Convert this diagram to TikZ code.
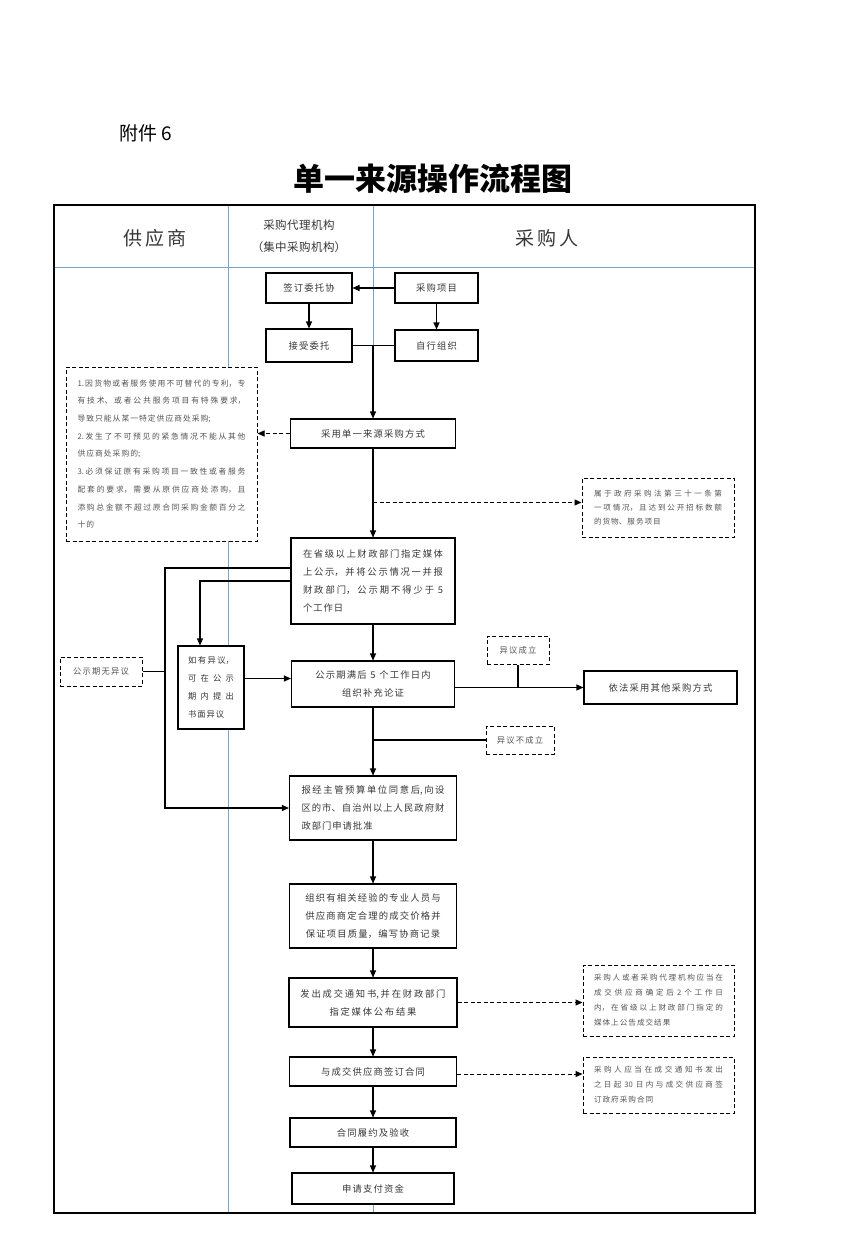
\documentclass[tikz,border=0pt]{standalone}
\usepackage{fontspec}
\setmainfont{Noto Sans CJK SC}
\usetikzlibrary{arrows.meta}
\XeTeXlinebreaklocale "zh"
\XeTeXlinebreakskip=1.2pt
\definecolor{laneblue}{RGB}{120,165,205}
\definecolor{flowgray}{RGB}{55,55,55}
\definecolor{notegray}{RGB}{85,85,85}
\newcommand\justskip{\XeTeXlinebreakskip=1pt plus 3pt minus 0.5pt\relax}
\newcommand\flowfont{\fontsize{9.3}{18}\selectfont}
\newcommand\leftfont{\fontsize{7.8}{17.7}\selectfont\justskip}
\newcommand\rightfont{\fontsize{7.6}{15}\selectfont\justskip}
\newcommand\labelfont{\fontsize{8.3}{10}\selectfont}
\newcommand\gap{\hspace{0.4em}}

\begin{document}
\begin{tikzpicture}[x=1pt,y=-1pt,
	flow_box/.style={draw,fill=white,line width=1.1pt,minimum width=166pt,minimum height=29pt,inner sep=0pt,text width=150pt,align=center,font=\flowfont,text=flowgray},
	note_box/.style={draw,fill=white,line width=1pt,dash pattern=on 4pt off 2.5pt,inner sep=0pt,align=justify,font=\rightfont,text=notegray},
	flow_line/.style={line width=1.1pt},
	flow_arrow/.style={line width=1.1pt,-{Triangle[length=7pt,width=6pt]}},
	dash_arrow/.style={line width=1pt,dash pattern=on 4pt off 2.5pt,-{Triangle[length=7pt,width=6pt]}}]

	\path[fill=white,use as bounding box] (0,0) rectangle (850,1250);

	% title and lanes
	\node[font={\fontsize{19}{22}\selectfont\XeTeXlinebreakskip=0pt}] (fujian) at (146,133) {附件 6};
	\node[font={\fontsize{31}{34}\selectfont\bfseries\XeTeXlinebreakskip=0pt}] (biaoti) at (433,179) {单一来源操作流程图};

	\draw[laneblue,line width=0.8pt] (54,267) -- (755,267);
	\draw[laneblue,line width=0.8pt] (228,205) -- (228,1213);
	\draw[laneblue,line width=0.8pt] (373,205) -- (373,1213);
	\draw[line width=1.6pt] (54,205) rectangle (755,1213);

	\node[text width=90pt,align=center,inner sep=0pt,text=flowgray,font={\fontsize{19}{22}\selectfont\XeTeXlinebreakskip=3pt}] (gongyingshang) at (155,238) {供应商};
	\node[text width=110pt,align=center,inner sep=0pt,text=flowgray,font={\fontsize{11.5}{22}\selectfont\XeTeXlinebreakskip=0.5pt}] (daili) at (299,236) {采购代理机构\\（集中采购机构）};
	\node[text width=90pt,align=center,inner sep=0pt,text=flowgray,font={\fontsize{19}{22}\selectfont\XeTeXlinebreakskip=3pt}] (caigouren) at (547,238) {采购人};

	% boxes
	\node[flow_box,minimum width=86pt,minimum height=30pt,text width=80pt] (weituo) at (309,288) {签订委托协};
	\node[flow_box,minimum width=83pt,minimum height=30pt,text width=78pt] (xiangmu) at (436.5,288) {采购项目};
	\node[flow_box,minimum width=86pt,minimum height=33pt,text width=80pt] (jieshou) at (309,345.5) {接受委托};
	\node[flow_box,minimum width=83pt,minimum height=31pt,text width=78pt] (zixing) at (436.5,345.5) {自行组织};

	\node[flow_box,minimum width=165pt] (caiyong) at (373,433.5) {采用单一来源采购方式};
	\node[note_box,minimum width=191pt,minimum height=174pt,text width=168pt,font=\leftfont] (tiaojian) at (161.5,454) {1.因货物或者服务使用不可替代的专利，专\linebreak 有技术、或者公共服务项目有特殊要求，\linebreak 导致只能从某一特定供应商处采购;\\2.发生了不可预见的紧急情况不能从其他\linebreak 供应商处采购的;\\3.必须保证原有采购项目一致性或者服务\linebreak 配套的要求，需要从原供应商处添购，且\linebreak 添购总金额不超过原合同采购金额百分之\linebreak 十的};
	\node[note_box,minimum width=152pt,minimum height=59pt,text width=128pt,font={\fontsize{7.6}{14}\selectfont\justskip}] (shuyu) at (658,507.5) {属于政府采购法第三十一条第\linebreak 一项情况，且达到公开招标数额\linebreak 的货物、服务项目};

	\node[flow_box,minimum width=164pt,minimum height=86pt,text width=140pt,align=justify,font=\flowfont\justskip] (gongshi) at (373,581) {在省级以上财政部门指定媒体\linebreak 上公示，并将公示情况一并报\linebreak 财政部门，公示期不得少于\gap 5\linebreak 个工作日};
	\node[flow_box,minimum width=163pt,minimum height=46pt] (buzheng) at (373,684) {公示期满后\gap 5\gap 个工作日内\\组织补充论证};
	\node[flow_box,minimum width=66pt,minimum height=83pt,text width=46pt,align=justify,font={\fontsize{8.3}{18}\selectfont\justskip}] (yiyi) at (211,687.5) {如有异议，\linebreak 可在公示\linebreak 期内提出\linebreak 书面异议};
	\node[note_box,minimum width=82pt,minimum height=29pt,text width=76pt,align=center,font=\labelfont] (wuyiyi) at (101,671.5) {公示期无异议};
	\node[note_box,minimum width=62pt,minimum height=28pt,text width=58pt,align=center,font=\labelfont] (chengli) at (518,650) {异议成立};
	\node[note_box,minimum width=68pt,minimum height=28pt,text width=64pt,align=center,font=\labelfont] (bucheng) at (520,740) {异议不成立};
	\node[flow_box,minimum width=153pt,minimum height=33pt,text width=140pt] (yifa) at (660.5,687.5) {依法采用其他采购方式};

	\node[flow_box,minimum width=167pt,minimum height=64pt,text width=143pt,align=justify,font=\flowfont\justskip] (baojing) at (373,808) {报经主管预算单位同意后,向设\linebreak 区的市、自治州以上人民政府财\linebreak 政部门申请批准};
	\node[flow_box,minimum width=167pt,minimum height=64pt] (zuzhi) at (373,916) {组织有相关经验的专业人员与\\供应商商定合理的成交价格并\\保证项目质量，编写协商记录};
	\node[flow_box,minimum width=168pt,minimum height=49pt,font={\flowfont\XeTeXlinebreakskip=1.8pt}] (fachu) at (373,1002.5) {发出成交通知书,并在财政部门\\指定媒体公布结果};
	\node[note_box,minimum width=151pt,minimum height=71pt,text width=129pt] (gonggao) at (658.5,1000.5) {采购人或者采购代理机构应当在\linebreak 成交供应商确定后\gap 2\gap 个工作日\linebreak 内，在省级以上财政部门指定的\linebreak 媒体上公告成交结果};
	\node[flow_box,minimum width=167pt] (qianyue) at (373,1071.5) {与成交供应商签订合同};
	\node[note_box,minimum width=151pt,minimum height=56pt,text width=129pt] (hetong) at (658.5,1085) {采购人应当在成交通知书发出\linebreak 之日起\gap 30\gap 日内与成交供应商签\linebreak 订政府采购合同};
	\node[flow_box,minimum width=166pt] (lvyue) at (373,1132.5) {合同履约及验收};
	\node[flow_box,minimum width=162pt,minimum height=31pt] (zhifu) at (373,1188.5) {申请支付资金};

	% connectors
	\coordinate (lbend) at (165,568);
	\coordinate (shuyu_in) at ([yshift=5pt]shuyu.west);
	\coordinate (yiyi_out) at ([yshift=9pt]yiyi.east);
	\coordinate (hetong_in) at ([yshift=11pt]hetong.west);

	\draw[flow_arrow] (xiangmu) -- (weituo);
	\draw[flow_arrow] (weituo) -- (jieshou);
	\draw[flow_arrow] (xiangmu) -- (zixing);
	\draw[flow_line] (jieshou) -- (zixing);
	\draw[flow_arrow] (jieshou.east -| caiyong.north) -- (caiyong);
	\draw[dash_arrow] (caiyong) -- (caiyong -| tiaojian.east);
	\draw[flow_arrow] (caiyong) -- (gongshi);
	\draw[dash_arrow] (caiyong.south |- shuyu_in) -- (shuyu_in);
	\draw[flow_arrow] (gongshi) -- (buzheng);
	\draw[flow_arrow] ([yshift=13pt]gongshi.west) -- (lbend) |- (baojing.west);
	\draw[flow_arrow] (gongshi.west) -| ([xshift=-11pt]yiyi.north);
	\draw[flow_line] (wuyiyi) -- (wuyiyi -| lbend);
	\draw[flow_arrow] (yiyi_out) -- (yiyi_out -| buzheng.west);
	\draw[flow_arrow] (buzheng.east |- yifa.west) -- (yifa.west);
	\draw[flow_line] (chengli) -- (chengli |- yifa.west);
	\draw[flow_line] (buzheng.south |- bucheng.west) -- (bucheng.west);
	\draw[flow_arrow] (buzheng) -- (baojing);
	\draw[flow_arrow] (baojing) -- (zuzhi);
	\draw[flow_arrow] (zuzhi) -- (fachu);
	\draw[dash_arrow] (fachu) -- (fachu -| gonggao.west);
	\draw[flow_arrow] (fachu) -- (qianyue);
	\draw[dash_arrow] (qianyue.east |- hetong_in) -- (hetong_in);
	\draw[flow_arrow] (qianyue) -- (lvyue);
	\draw[flow_arrow] (lvyue) -- (zhifu);
\end{tikzpicture}
\end{document}
